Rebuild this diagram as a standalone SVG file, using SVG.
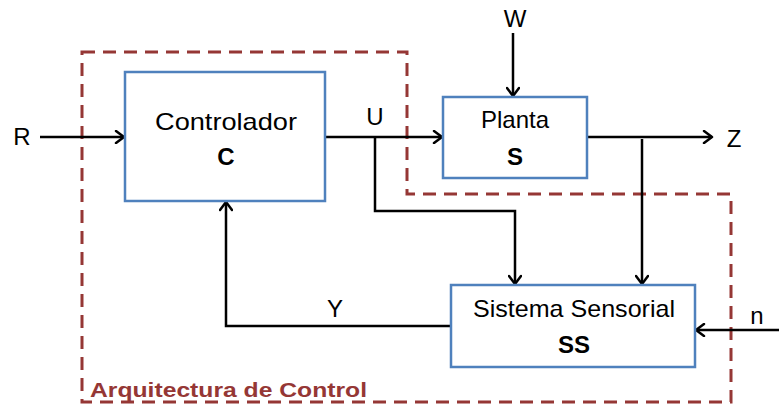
<svg xmlns="http://www.w3.org/2000/svg" width="779" height="409" viewBox="0 0 779 409">
<defs>
<marker id="arr" markerWidth="12" markerHeight="14" refX="10" refY="7" orient="auto" markerUnits="userSpaceOnUse">
<path d="M2,1 L10,7 L2,13" fill="none" stroke="#000" stroke-width="2.5" stroke-linecap="round" stroke-linejoin="round"/>
</marker>
<style>
.box{fill:#fff;stroke:#4F81BD;stroke-width:2.5}
.t{font-family:"Liberation Sans",Arial,sans-serif;font-size:24px;fill:#000;text-anchor:middle}
.b{font-weight:bold}
.ln{fill:none;stroke:#000;stroke-width:2.5}
.ar{marker-end:url(#arr)}
</style>
</defs>
<rect width="779" height="409" fill="#fff"/>
<g id="boundary">
<path d="M82,52 H407 V194 H731 V402 H82 Z" fill="none" stroke="#953735" stroke-width="3" stroke-dasharray="13,8"/>
<text x="90" y="397" font-family="Liberation Sans,Arial,sans-serif" font-weight="bold" font-size="21" fill="#953735" textLength="277" lengthAdjust="spacingAndGlyphs">Arquitectura de Control</text>
</g>
<g id="connectors">
<path class="ln ar" d="M40,137 H124"/>
<path class="ln ar" d="M325,137 H442"/>
<path class="ln ar" d="M375,137 V211 H515 V284"/>
<path class="ln ar" d="M513,33 V96"/>
<path class="ln ar" d="M587,137 H712"/>
<path class="ln ar" d="M642,139 V284"/>
<path class="ln ar" d="M451,326 H226 V202"/>
<path class="ln ar" d="M779,330 H696"/>
</g>
<g id="labels">
<text class="t" x="22" y="145">R</text>
<text class="t" x="375" y="125">U</text>
<text class="t" x="515" y="27">W</text>
<text class="t" x="734" y="147">Z</text>
<text class="t" x="335" y="317">Y</text>
<text class="t" x="757" y="324">n</text>
</g>
<g id="controlador">
<rect class="box" x="125" y="72" width="200" height="129"/>
<text class="t" x="226" y="130" font-size="26" textLength="142" lengthAdjust="spacingAndGlyphs">Controlador</text>
<text class="t b" x="226" y="165">C</text>
</g>
<g id="planta">
<rect class="box" x="443" y="97" width="144" height="81"/>
<text class="t" x="515" y="128" font-size="26">Planta</text>
<text class="t b" x="515" y="165">S</text>
</g>
<g id="sensorial">
<rect class="box" x="451" y="285" width="244" height="82"/>
<text class="t" x="574" y="317" font-size="25" textLength="202" lengthAdjust="spacingAndGlyphs">Sistema Sensorial</text>
<text class="t b" x="574" y="353">SS</text>
</g>
</svg>
